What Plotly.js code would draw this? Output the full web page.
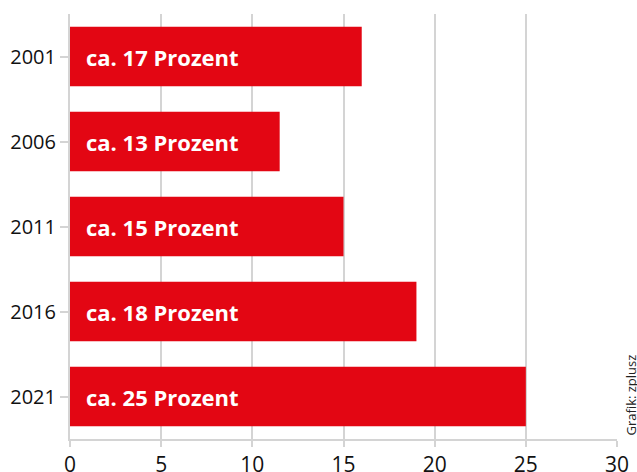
<!DOCTYPE html>
<html>
<head>
<meta charset="utf-8">
<script src="https://cdn.plot.ly/plotly-3.0.1.min.js"></script>
<style>html,body{margin:0;padding:0;background:#fff;}#chart{width:637px;height:472px;}</style>
</head>
<body>
<div id="chart"></div>
<script>
const years = ["2001", "2006", "2011", "2016", "2021"];
const values = [16, 11.5, 15, 19, 25];
const labels = ["ca. 17 Prozent", "ca. 13 Prozent", "ca. 15 Prozent", "ca. 18 Prozent", "ca. 25 Prozent"];
const xTicks = [0, 5, 10, 15, 20, 25, 30];
const source = "Grafik: zplusz";

const trace = {
  type: "bar",
  orientation: "h",
  x: values,
  y: years,
  marker: {color: "#e30613"},
  hoverinfo: "skip"
};

const annotations = years.map((yr, i) => ({
  x: 0, y: i, xref: "x", yref: "y",
  text: "<b>" + labels[i] + "</b>",
  showarrow: false, xanchor: "left", yanchor: "middle", xshift: 14,
  font: {family: "Open Sans", size: 22, color: "#ffffff"}
}));
annotations.push({
  x: 1, y: 0, xref: "paper", yref: "paper",
  text: source, showarrow: false, textangle: -90,
  xanchor: "left", yanchor: "bottom", xshift: 2, yshift: 1,
  font: {family: "Open Sans", size: 13, color: "#222"}
});

const layout = {
  width: 637, height: 472,
  margin: {l: 70, r: 20, t: 14, b: 33},
  paper_bgcolor: "#fff", plot_bgcolor: "#fff",
  bargap: 0.3,
  showlegend: false,
  xaxis: {
    range: [0, 30], tickvals: xTicks, ticktext: xTicks.map(String),
    showgrid: true, gridcolor: "#d4d4d4", gridwidth: 2,
    zeroline: false,
    showline: true, linecolor: "#d4d4d4", linewidth: 2,
    ticks: "outside", ticklen: 6, tickcolor: "#d4d4d4", tickwidth: 2,
    tickfont: {family: "Open Sans", size: 21, color: "#111"}
  },
  yaxis: {
    type: "category", categoryorder: "array", categoryarray: years,
    range: [4.5, -0.5], autorange: false,
    showgrid: false, zeroline: false,
    showline: true, linecolor: "#d4d4d4", linewidth: 2,
    ticks: "outside", ticklen: 8, tickcolor: "#d4d4d4", tickwidth: 2,
    tickfont: {family: "Open Sans", size: 20, color: "#111"}
  },
  annotations: annotations
};

Plotly.newPlot("chart", [trace], layout, {staticPlot: true, displayModeBar: false});
</script>
</body>
</html>
